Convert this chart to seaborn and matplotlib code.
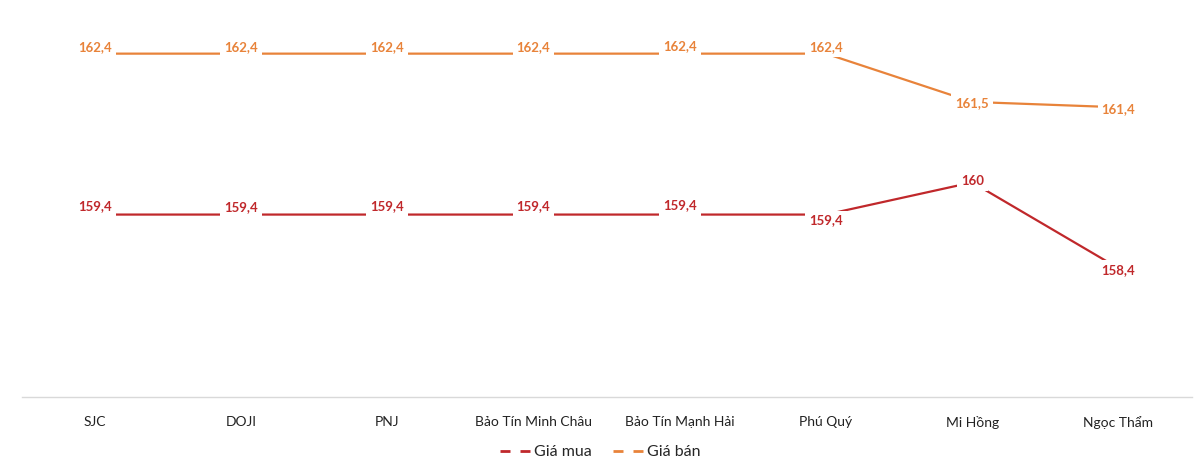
import matplotlib
matplotlib.use('Agg')
import pandas as pd
import numpy as np
import matplotlib.pyplot as plt
import seaborn as sns
from matplotlib.lines import Line2D

# Data
brands = ['SJC', 'DOJI', 'PNJ', 'Bảo Tín Minh Châu', 'Bảo Tín Mạnh Hải',
          'Phú Quý', 'Mi Hồng', 'Ngọc Thẩm']
gia_mua = [159.4, 159.4, 159.4, 159.4, 159.4, 159.4, 160.0, 158.4]
gia_ban = [162.4, 162.4, 162.4, 162.4, 162.4, 162.4, 161.5, 161.4]
series_names = ['Giá mua', 'Giá bán']

# label offsets (pixels) so the boxes sit like in the original
mua_offsets = [8, 7, 8, 8, 9, -6, 1, -2]
ban_offsets = [7, 7, 7, 7, 8, 7, -1, -2]

colors = {'Giá mua': '#C0282B', 'Giá bán': '#E8833A'}

df = pd.DataFrame({'brand': brands * 2,
                   'x': list(range(len(brands))) * 2,
                   'price': gia_mua + gia_ban,
                   'series': [series_names[0]] * len(brands) + [series_names[1]] * len(brands)})

sns.set_style('white')
plt.rcParams['font.family'] = ['Lato', 'DejaVu Sans']

fig = plt.figure(figsize=(12, 4.67), dpi=100)
ax = fig.add_axes([0.018, 0.15, 0.975, 0.85])

sns.lineplot(data=df, x='x', y='price', hue='series', palette=colors,
             linewidth=1.6, ax=ax, legend=False, sort=False)

def fmt(v):
    s = f'{v:.1f}'.replace('.', ',')
    return s[:-2] if s.endswith(',0') else s

for name, vals, offs in [('Giá mua', gia_mua, mua_offsets),
                         ('Giá bán', gia_ban, ban_offsets)]:
    for i, (v, o) in enumerate(zip(vals, offs)):
        ax.annotate(fmt(v), (i, v), xytext=(0, o), textcoords='offset pixels',
                    ha='center', va='center', fontsize=9.5, fontweight='bold',
                    color=colors[name], zorder=10,
                    bbox=dict(boxstyle='square,pad=0.3', fc='white', ec='none'))

ax.set_xlim(-0.5, len(brands) - 0.5)
ax.set_ylim(156, 163.4)
ax.set_xticks(range(len(brands)))
ax.set_xticklabels(brands, fontsize=10, color='#222222')
ax.tick_params(axis='x', length=0, pad=14)
ax.set_yticks([])
ax.set_xlabel('')
ax.set_ylabel('')
for side in ['top', 'left', 'right']:
    ax.spines[side].set_visible(False)
ax.spines['bottom'].set_color('#D9D9D9')
ax.spines['bottom'].set_linewidth(1)

handles = [Line2D([0], [0], color=colors[n], lw=2, linestyle=(0, (3.6, 3.6)))
           for n in series_names]
fig.legend(handles, series_names, loc='center', bbox_to_anchor=(0.5, 0.032),
           ncol=2, frameon=False, fontsize=11.5, handlelength=2.0,
           handletextpad=0.15, columnspacing=1.3)

fig.savefig('out.png', dpi=100, facecolor='white')
